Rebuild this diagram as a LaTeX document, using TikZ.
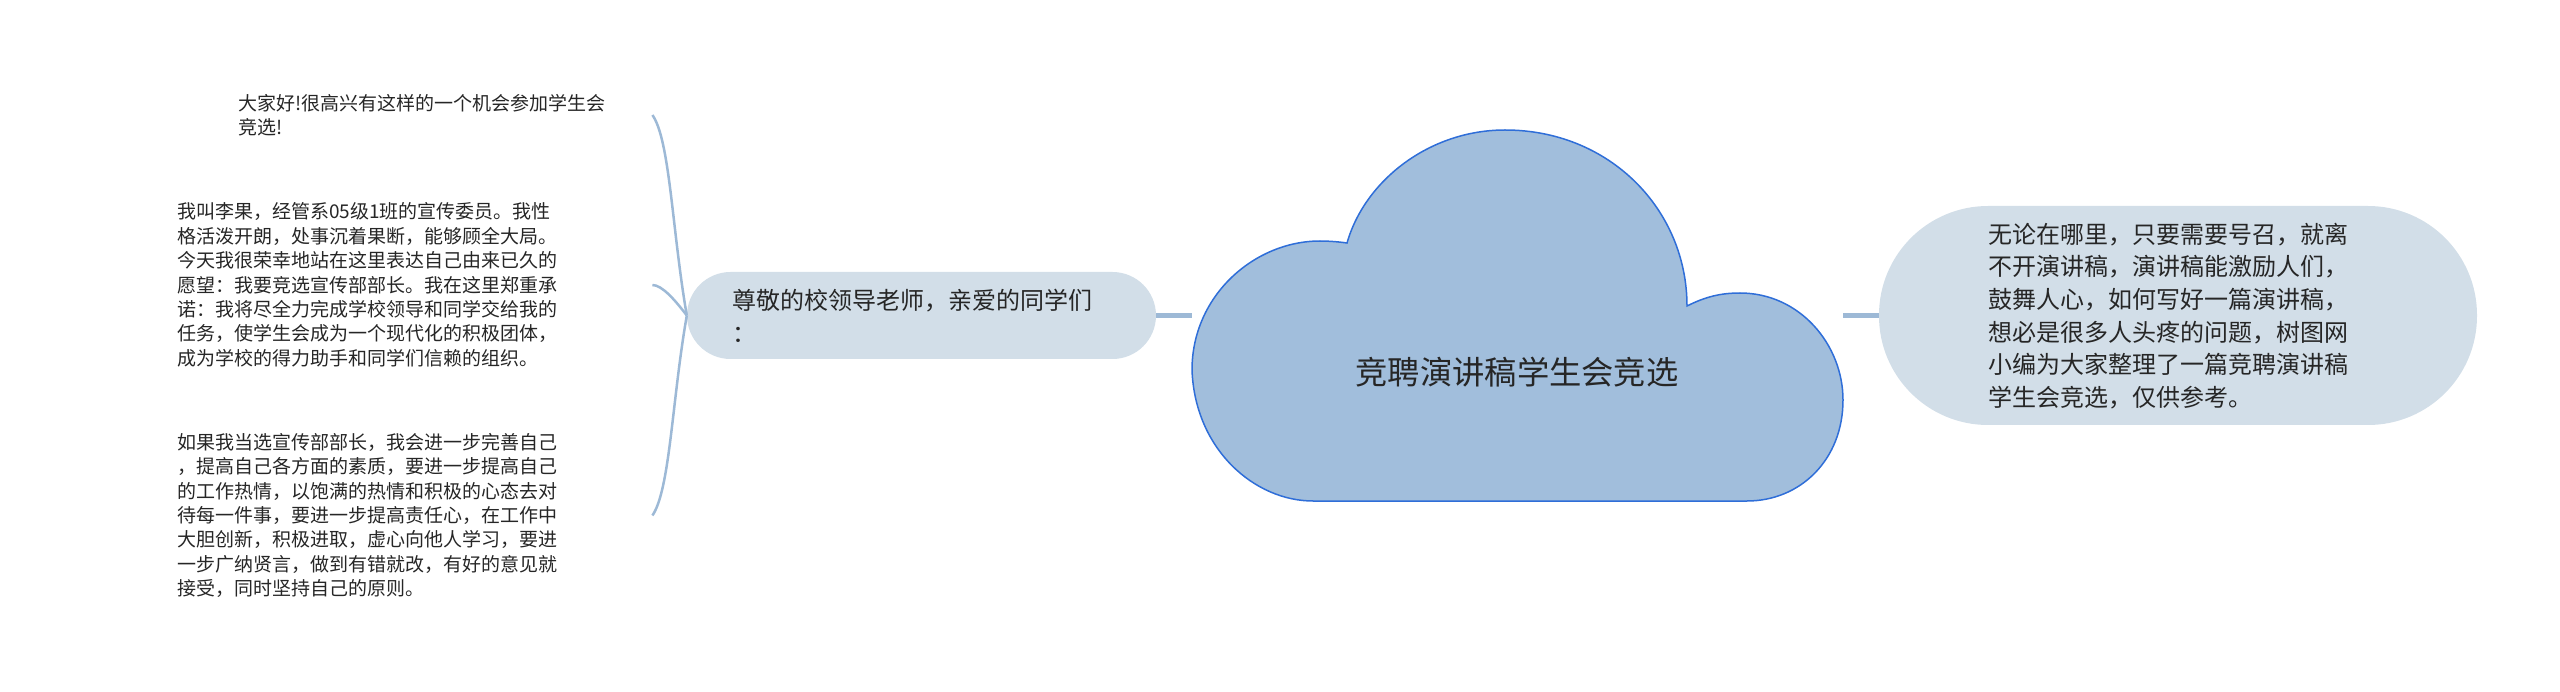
\documentclass[tikz,border=0pt]{standalone}
\usepackage{fontspec}
\newfontfamily\cjk{Noto Sans CJK SC}
\definecolor{linec}{HTML}{9DB9D6}
\definecolor{boxfill}{HTML}{D2DEE8}
\definecolor{cloudfill}{HTML}{A1BEDC}
\definecolor{cloudline}{HTML}{2F6ED8}
\definecolor{txt}{HTML}{262626}
\tikzset{
  pill/.style={fill=boxfill, draw=none, inner sep=0pt},
  txtS/.style={font=\cjk\fontsize{19pt}{24.4pt}\selectfont, text=txt, align=left, inner sep=0pt},
  txtM/.style={font=\cjk\fontsize{24pt}{32.6pt}\selectfont, text=txt, align=left, inner sep=0pt},
  txtL/.style={font=\cjk\fontsize{32.3pt}{40pt}\selectfont, text=txt, inner sep=0pt},
  link/.style={draw=linec, line width=4.5pt},
  brace/.style={draw=linec, line width=2.5pt},
  cloudpath/.style={draw=cloudline, fill=cloudfill, line width=1.5pt}
}
\begin{document}
\begin{tikzpicture}[x=1pt,y=-1pt]
\useasboundingbox (0,0) rectangle (2560,692);

% cloud (central topic)
\path[cloudpath] (1347,243) .. controls (1365,180) and (1430,130) .. (1505,130)
  .. controls (1610,130) and (1687,210) .. (1687,306)
  .. controls (1705,297) and (1720,293) .. (1740,293)
  .. controls (1800,293) and (1843,345) .. (1843,400)
  .. controls (1843,460) and (1800,501) .. (1747,501)
  -- (1313,501)
  .. controls (1255,501) and (1195,450) .. (1192,370)
  .. controls (1192,295) and (1255,241) .. (1320,241)
  .. controls (1330,241) and (1340,242) .. (1347,243) -- cycle;
\node[txtL] (C) at (1517,372) {竞聘演讲稿学生会竞选};
\coordinate (Cw) at (1192,315.5);
\coordinate (Ce) at (1843,315.5);

% left branch
\node[pill, minimum width=469pt, minimum height=87pt, rounded corners=43.5pt] (L) at (921.5,315.5) {};
\node[txtM, anchor=west] (Lt) at (732,316) {尊敬的校领导老师，亲爱的同学们\\：};

% right branch
\node[pill, minimum width=598pt, minimum height=219pt, rounded corners=109pt] (R) at (2178,315.5) {};
\node[txtM, anchor=west] (Rt) at (1988,316) {无论在哪里，只要需要号召，就离\\不开演讲稿，演讲稿能激励人们，\\鼓舞人心，如何写好一篇演讲稿，\\想必是很多人头疼的问题，树图网\\小编为大家整理了一篇竞聘演讲稿\\学生会竞选，仅供参考。};

% children of left branch
\node[txtS, anchor=west, text width=414pt] (c1) at (238,115) {大家好!很高兴有这样的一个机会参加学生会\\竞选!};
\node[txtS, anchor=west, text width=475pt] (c2) at (177,285) {我叫李果，经管系05级1班的宣传委员。我性\\格活泼开朗，处事沉着果断，能够顾全大局。\\今天我很荣幸地站在这里表达自己由来已久的\\愿望：我要竞选宣传部部长。我在这里郑重承\\诺：我将尽全力完成学校领导和同学交给我的\\任务，使学生会成为一个现代化的积极团体，\\成为学校的得力助手和同学们信赖的组织。};
\node[txtS, anchor=west, text width=475pt] (c3) at (177,515.5) {如果我当选宣传部部长，我会进一步完善自己\\，提高自己各方面的素质，要进一步提高自己\\的工作热情，以饱满的热情和积极的心态去对\\待每一件事，要进一步提高责任心，在工作中\\大胆创新，积极进取，虚心向他人学习，要进\\一步广纳贤言，做到有错就改，有好的意见就\\接受，同时坚持自己的原则。};

% connectors
\draw[link] (L.east) -- (Cw);
\draw[link] (Ce) -- (R.west);
\draw[brace] (L.west) .. controls (672,230) and (670,140) .. (c1.east);
\draw[brace] (L.west) .. controls (675,300) and (662,285) .. (c2.east);
\draw[brace] (L.west) .. controls (672,400) and (670,490) .. (c3.east);
\end{tikzpicture}
\end{document}
